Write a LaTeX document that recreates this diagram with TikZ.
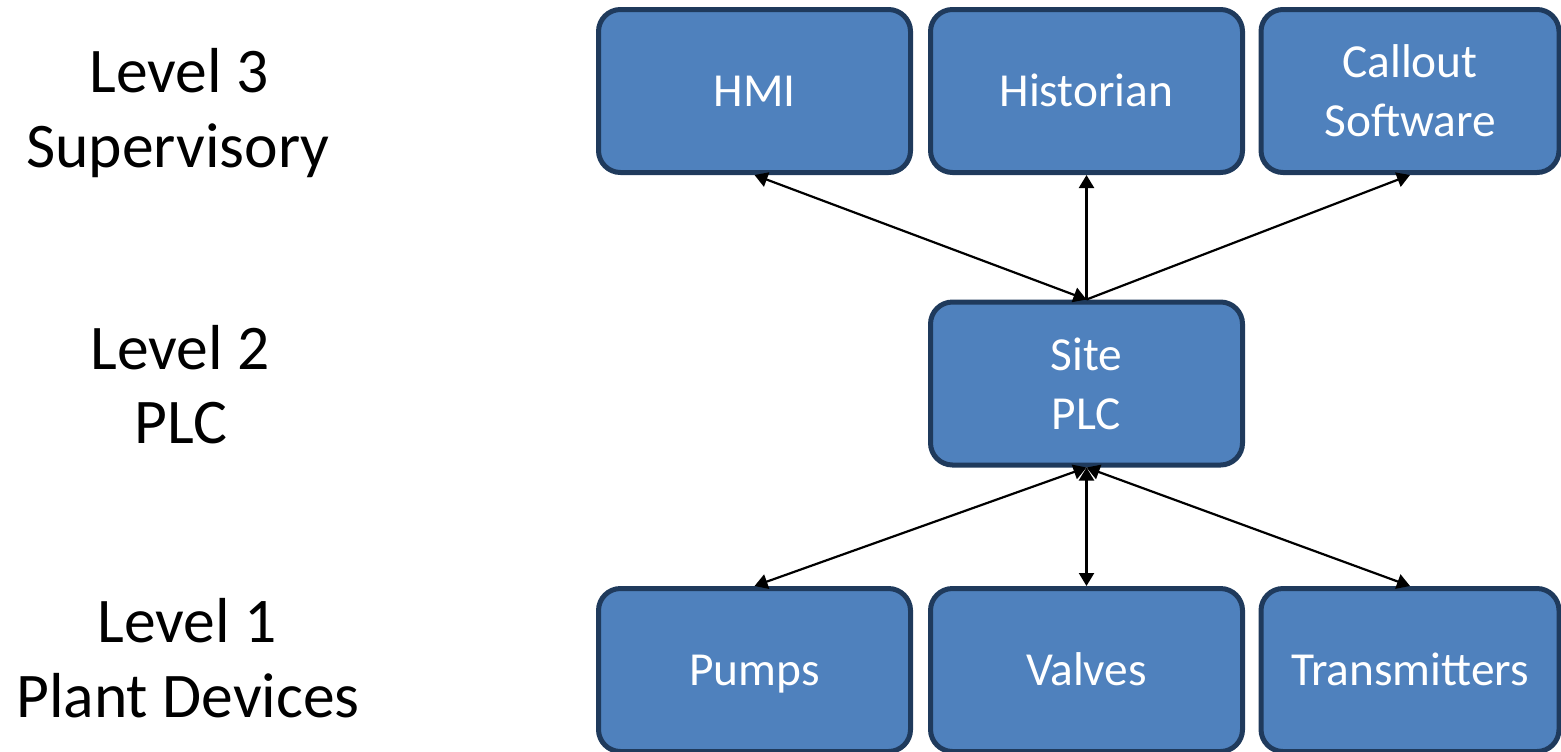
\documentclass[tikz,border=0pt]{standalone}
\usepackage{fontspec}
\setmainfont{Carlito}
\usetikzlibrary{arrows.meta}
\definecolor{boxfill}{HTML}{4F81BD}
\definecolor{boxline}{HTML}{1F3A5C}
\begin{document}
\begin{tikzpicture}[x=0.5pt,y=-0.5pt,
  box/.style={draw=boxline, fill=boxfill, line width=2.5pt, rounded corners=11pt,
    minimum width=156pt, minimum height=81.5pt, inner sep=0pt, text=white,
    font=\fontsize{23.7}{29.5}\selectfont, align=center},
  narrow/.style={minimum width=149pt},
  single/.style={text height=15pt, text depth=0pt},
  tip/.tip={Triangle[length=6.5pt,width=7.5pt]},
  conn/.style={line width=1.1pt, -tip},
  both/.style={line width=1.1pt, tip-tip},
  lvl/.style={anchor=base, font=\fontsize{31.8}{37.5}\selectfont, inner sep=0pt}]
\useasboundingbox (0,0) rectangle (1561,751);
% level labels
\node[lvl] (l3a) at (179,92) {Level 3};
\node[lvl] (l3b) at (178,167) {Supervisory};
\node[lvl] (l2a) at (180,369) {Level 2};
\node[lvl] (l2b) at (181,443) {PLC};
\node[lvl] (l1a) at (187,642) {Level 1};
\node[lvl] (l1b) at (188,717) {Plant Devices};
% boxes
\node[box,single] (hmi) at (754.5,91) {HMI};
\node[box,single] (hist) at (1086.5,91) {Historian};
\node[box,narrow] (call) at (1410,91) {Callout\\Software};
\node[box] (plc) at (1086.5,383.5) {Site\\PLC};
\node[box,single] (pumps) at (754.5,670) {Pumps};
\node[box,single] (valves) at (1086.5,670) {Valves};
\node[box,narrow,single] (trans) at (1410,670) {Transmitters};
% connectors
\draw[both] (plc.north) -- (hmi.south);
\draw[conn] (plc.north) -- (hist.south);
\draw[conn] (plc.north) -- (call.south);
\draw[both] (plc.south) -- (pumps.north);
\draw[both] (plc.south) -- (valves.north);
\draw[both] (plc.south) -- (trans.north);
\end{tikzpicture}
\end{document}
